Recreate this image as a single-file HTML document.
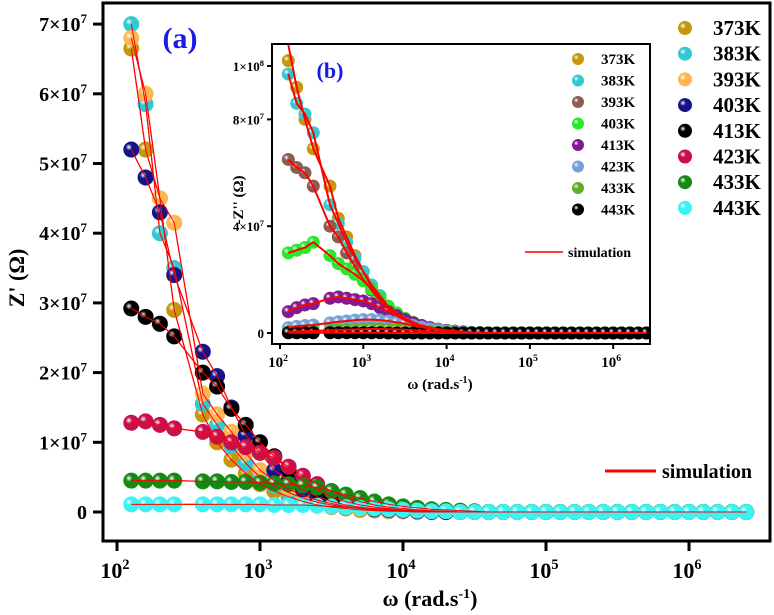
<!DOCTYPE html>
<html><head><meta charset="utf-8"><style>
html,body{margin:0;padding:0;background:#fff;}
svg{display:block;font-family:"Liberation Serif",serif;font-weight:bold;}
</style></head><body>
<svg id="c" width="774" height="615" viewBox="0 0 774 615"><defs id="defs"></defs></svg>
<script>
const logW=[2.1,2.2,2.3,2.4,2.6,2.7,2.8,2.9,3.0,3.1,3.2,3.3,3.4,3.5,3.6,3.7,3.8,3.9,4.0,4.1,4.2,4.3,4.4,4.5,4.6,4.7,4.8,4.9,5.0,5.1,5.2,5.3,5.4,5.5,5.6,5.7,5.8,5.9,6.0,6.1,6.2,6.3,6.4];
const temps=["373K","383K","393K","403K","413K","423K","433K","443K"];
// Z' (units of 1e7 ohm)
const zr373=[6.65,5.2,4.5,2.9,1.4,1.0,0.75,0.55,0.4,0.3,0.22,0.15,0.1,0.07,0.05,0.03,0.02,0.01,0.01];
const zr383=[7.0,5.85,4.0,3.5,1.55,1.25,0.95,0.7,0.5,0.38,0.28,0.2,0.14,0.1,0.07,0.05,0.03,0.02,0.01];
const zr393=[6.8,6.0,4.5,4.15,1.7,1.4,1.15,0.85,0.6,0.45,0.33,0.24,0.17,0.12,0.08,0.05,0.03,0.02,0.01];
const zr403=[5.2,4.8,4.3,3.4,2.3,1.95,1.5,1.1,0.85,0.6,0.45,0.32,0.22,0.15,0.1,0.07,0.04,0.03,0.02,0.01];
const zr413=[2.92,2.8,2.7,2.52,2.0,1.8,1.48,1.25,1.0,0.8,0.6,0.45,0.32,0.22,0.15,0.1,0.07,0.05,0.03,0.02,0.01];
const zr423=[1.28,1.3,1.25,1.2,1.15,1.08,1.0,0.93,0.85,0.78,0.65,0.52,0.4,0.3,0.22,0.15,0.1,0.07,0.05,0.03,0.02,0.01];
const zr433=[0.45,0.45,0.45,0.45,0.44,0.44,0.43,0.43,0.42,0.41,0.4,0.38,0.35,0.3,0.25,0.2,0.15,0.11,0.08,0.06,0.04,0.03,0.02,0.01];
const zr443=[0.11,0.11,0.11,0.11,0.11,0.11,0.11,0.11,0.11,0.1,0.1,0.1,0.09,0.08,0.07,0.06,0.05,0.04,0.03,0.02,0.01,0.01];
// -Z'' (units of 1e7 ohm)
const zi373=[10.2,9.2,8.0,6.9,5.5,4.3,3.6,2.9,2.3,1.7,1.3,0.95,0.7,0.5,0.35,0.25,0.17,0.12,0.08,0.05,0.03,0.02,0.01];
const zi383=[9.7,8.6,8.2,7.5,4.8,4.1,3.4,2.8,2.3,1.8,1.4,1.0,0.75,0.55,0.4,0.28,0.2,0.14,0.1,0.06,0.04,0.02,0.01];
const zi393=[6.5,6.2,6.0,5.5,4.0,3.6,3.0,2.5,2.0,1.6,1.2,0.9,0.65,0.48,0.35,0.25,0.17,0.12,0.08,0.05,0.03,0.02,0.01];
const zi403=[3.0,3.1,3.2,3.4,2.9,2.6,2.4,2.2,1.95,1.65,1.3,1.0,0.75,0.55,0.4,0.28,0.2,0.14,0.1,0.06,0.04,0.02,0.01];
const zi413=[0.8,0.95,1.05,1.1,1.3,1.35,1.3,1.25,1.2,1.1,0.95,0.8,0.65,0.5,0.38,0.28,0.2,0.14,0.1,0.07,0.04,0.02,0.01];
const zi423=[0.2,0.25,0.28,0.3,0.38,0.42,0.45,0.48,0.5,0.5,0.48,0.45,0.4,0.35,0.28,0.22,0.16,0.12,0.08,0.05,0.03,0.02,0.01];
const zi433=[0.05,0.06,0.07,0.08,0.1,0.11,0.12,0.13,0.14,0.15,0.15,0.14,0.13,0.12,0.1,0.08,0.06,0.04,0.03,0.02,0.01];
const zi443=[0.01,0.01,0.01,0.01,0.01,0.01,0.01,0.01,0.01,0.01,0.01];
const mainYTicks=[0,1,2,3,4,5,6,7];
const insetYTicks=[0,4,8,10];
const xDecades=[2,3,4,5,6];

const mainCols=["#c8960c","#34c8d0","#ffb652","#141488","#000000","#c8104c","#148a14","#38f4f4"];
const insCols=["#c8960c","#34c8d0","#8c5c52","#28e828","#821a92","#74a2d8","#62b022","#000000"];
const mainSeries=[zr373,zr383,zr393,zr403,zr413,zr423,zr433,zr443];
const insSeries=[zi373,zi383,zi393,zi403,zi413,zi423,zi433,zi443];

const NS="http://www.w3.org/2000/svg";
const svg=document.getElementById('c');
const defs=document.getElementById('defs');
function mk(tag,at,parent){const e=document.createElementNS(NS,tag);for(const k in at)e.setAttribute(k,at[k]);(parent||svg).appendChild(e);return e;}
const gradIds={};
function grad(col){
  if(gradIds[col])return gradIds[col];
  const id='g'+col.slice(1);
  const g=mk('radialGradient',{id:id,cx:'0.35',cy:'0.35',r:'0.7'},defs);
  mk('stop',{offset:'0',"stop-color":'#ffffff'},g);
  mk('stop',{offset:'0.3',"stop-color":col},g);
  mk('stop',{offset:'1',"stop-color":col},g);
  gradIds[col]='url(#'+id+')';return gradIds[col];
}
function pow10Text(parent,x,y,base,exp,size,anchor){
  const t=mk('text',{x:x,y:y,"font-size":size,"text-anchor":anchor||'end',fill:'#000'},parent);
  t.textContent=base;
  const s=mk('tspan',{dy:-size*0.4,"font-size":size*0.65},t);s.textContent=exp;
  return t;
}

// ===== MAIN =====
const M={l:103,r:770,t:3,b:541};
const mx=v=>117+(v-2)*143;
const my=v=>512-v*69.7;
mk('rect',{x:M.l,y:M.t,width:M.r-M.l,height:M.b-M.t,fill:'#fff',stroke:'#000',"stroke-width":3,});
const gMainData=mk('g',{});
mainSeries.forEach((s,k)=>{
  const pts=logW.map((lw,i)=>[mx(lw),my(s[i]||0)]);
  const ln=mk('polyline',{points:pts.map(p=>p.join(',')).join(' '),fill:'none',stroke:'#ff0000',"stroke-width":1.2},gMainData);
  
  
});
mainSeries.forEach((s,k)=>{
  const g=mk('g',{},gMainData);
  
  
  logW.forEach((lw,i)=>{
    const c=mk('circle',{cx:mx(lw),cy:my(s[i]||0),r:8,fill:grad(mainCols[k])},g);
    
    
  });
});
// redraw lines on top thinly
mainSeries.forEach((s,k)=>{
  const pts=logW.map((lw,i)=>[mx(lw),my(s[i]||0)]);
  const ln=mk('polyline',{points:pts.map(p=>p.join(',')).join(' '),fill:'none',stroke:'#ff0000',"stroke-width":1},gMainData);
  
  
});
const yAx=mk('g',{});
mainYTicks.forEach(v=>{
  mk('line',{x1:M.l-10,x2:M.l,y1:my(v),y2:my(v),stroke:'#000',"stroke-width":3},yAx);
  if(v===0){const t=mk('text',{x:87,y:my(v)+7,"font-size":20,"text-anchor":'end'},yAx);t.textContent='0';}
  else pow10Text(yAx,87,my(v)+7,v+'×10','7',20,'end');
});
const xAx=mk('g',{});
xDecades.forEach(d=>{
  mk('line',{x1:mx(d),x2:mx(d),y1:M.b,y2:M.b+10,stroke:'#000',"stroke-width":3},xAx);
  pow10Text(xAx,mx(d)-2,578,'10',String(d),22,'middle');
});
const xt=mk('text',{x:430,y:606,"font-size":22,"text-anchor":'middle',});
xt.textContent='ω (rad.s';const xs=mk('tspan',{dy:-8,"font-size":14},xt);xs.textContent='-1';const xe=mk('tspan',{dy:8},xt);xe.textContent=')';
const yt=mk('text',{x:0,y:0,"font-size":22,"text-anchor":'middle',transform:'translate(24,278) rotate(-90)',});
yt.textContent="Z' (Ω)";
const la=mk('text',{x:180,y:48,"font-size":30,fill:'#1a1ae6',"text-anchor":'middle',});la.textContent='(a)';
const lg=mk('g',{});
temps.forEach((t,k)=>{
  const y=28+k*25.7;
  const e=mk('g',{},lg);
  
  
  mk('circle',{cx:685,cy:y,r:7,fill:grad(mainCols[k])},e);
  const tx=mk('text',{x:713,y:y+7,"font-size":21},e);tx.textContent=t;
});
mk('line',{x1:605,x2:656,y1:471,y2:471,stroke:'#ff0000',"stroke-width":3,});
const sl=mk('text',{x:662,y:478,"font-size":20,});sl.textContent='simulation';

// ===== INSET =====
const I={l:272,r:650,t:44,b:344};
const ix=v=>280+(v-2)*83.3;
const iy=v=>333-v*26.7;
mk('rect',{x:I.l,y:I.t,width:I.r-I.l,height:I.b-I.t,fill:'#fff',stroke:'#000',"stroke-width":2,});
mk('clipPath',{id:'ic'},defs);
mk('rect',{x:I.l+1,y:I.t+1,width:I.r-I.l-2,height:I.b-I.t-2},document.getElementById('ic'));
const gIns=mk('g',{"clip-path":'url(#ic)',});
insSeries.forEach((s,k)=>{
  const g=mk('g',{},gIns);
  
  
  logW.forEach((lw,i)=>{
    const c=mk('circle',{cx:ix(lw),cy:iy(s[i]||0),r:6.5,fill:grad(insCols[k])},g);
    
    
  });
});
insSeries.forEach((s,k)=>{
  const pts=logW.map((lw,i)=>[ix(lw),iy(s[i]||0)]);
  if(k===0)pts[0][1]=iy(10.8);
  const ln=mk('polyline',{points:pts.map(p=>p.join(',')).join(' '),fill:'none',stroke:'#ff0000',"stroke-width":2},gIns);
  
  
});
const iyA=mk('g',{});
insetYTicks.forEach(v=>{
  mk('line',{x1:I.l-5,x2:I.l,y1:iy(v),y2:iy(v),stroke:'#000',"stroke-width":2},iyA);
  if(v===0){const t=mk('text',{x:264,y:iy(v)+5,"font-size":13,"text-anchor":'end'},iyA);t.textContent='0';}
  else pow10Text(iyA,264,iy(v)+5,(v===10?'1':v)+'×10',v===10?'8':'7',13,'end');
});
const ixA=mk('g',{});
xDecades.forEach(d=>{
  mk('line',{x1:ix(d),x2:ix(d),y1:I.b,y2:I.b+5,stroke:'#000',"stroke-width":2},ixA);
  pow10Text(ixA,ix(d)-2,367,'10',String(d),15,'middle');
});
const ixt=mk('text',{x:440,y:389,"font-size":15,"text-anchor":'middle',});
ixt.textContent='ω (rad.s';const ixs=mk('tspan',{dy:-6,"font-size":10},ixt);ixs.textContent='-1';const ixe=mk('tspan',{dy:6},ixt);ixe.textContent=')';
const iyt=mk('text',{x:0,y:0,"font-size":15,"text-anchor":'middle',transform:'translate(243,200) rotate(-90)',});
iyt.textContent="-Z'' (Ω)";
const lb=mk('text',{x:330,y:78,"font-size":22,fill:'#1a1ae6',"text-anchor":'middle',});lb.textContent='(b)';
const ilg=mk('g',{});
temps.forEach((t,k)=>{
  const y=59+k*21.5;
  const e=mk('g',{},ilg);
  
  
  mk('circle',{cx:578,cy:y,r:6,fill:grad(insCols[k])},e);
  const tx=mk('text',{x:601,y:y+5,"font-size":15},e);tx.textContent=t;
});
mk('line',{x1:525,x2:563,y1:252,y2:252,stroke:'#ff0000',"stroke-width":1.5,});
const isl=mk('text',{x:568,y:257,"font-size":14,});isl.textContent='simulation';
</script>
</body></html>
